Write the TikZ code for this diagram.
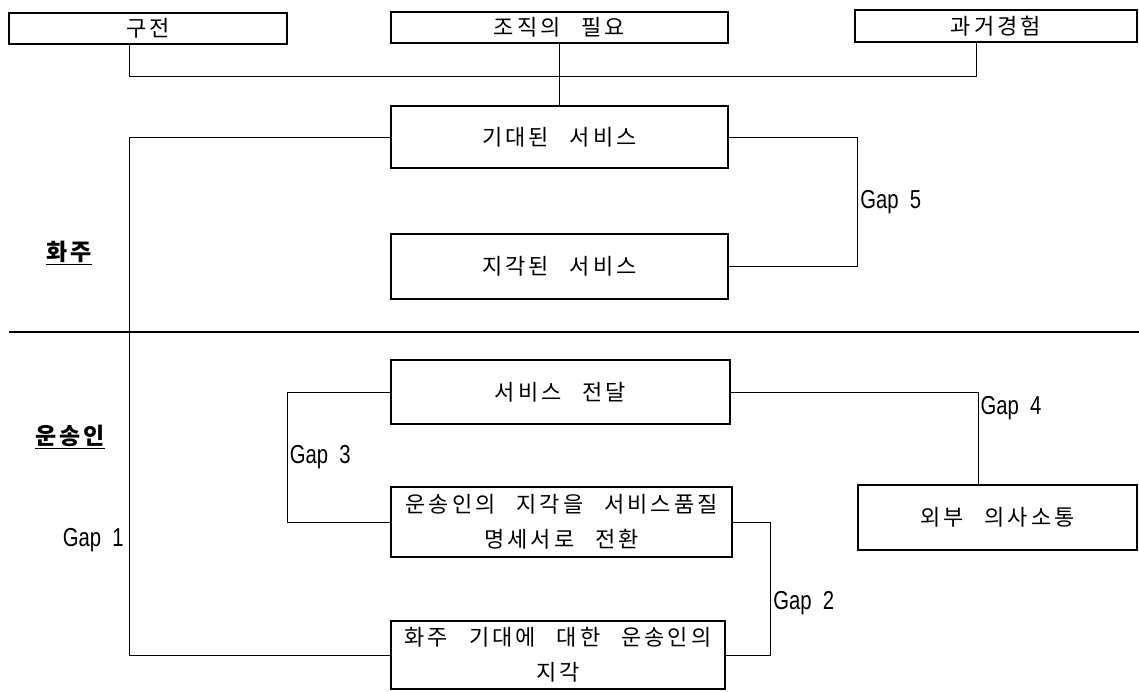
\documentclass[tikz,border=0pt]{standalone}
\usepackage{fontspec}
\newfontfamily\krfont[LetterSpace=14, WordSpace=2.6]{Noto Sans CJK KR}
\newfontfamily\gapfont[FakeStretch=0.78, WordSpace=2]{Liberation Sans}
\begin{document}
\begin{tikzpicture}[x=1pt, y=-1pt,
    box/.style={draw, line width=1.5pt, inner sep=0pt, align=center, font=\krfont\fontsize{22}{35}\selectfont},
    link/.style={line width=1pt},
    gaplbl/.style={font=\gapfont\fontsize{26}{26}\selectfont, inner sep=2pt},
    side/.style={font=\krfont\bfseries\fontsize{23}{26}\selectfont}]
        \useasboundingbox (0,0) rectangle (1139,691);

        % Fonti delle aspettative
        \node[box, minimum width=278, minimum height=31] (gujeon) at (148,28.5) {구전};
        \node[box, minimum width=337, minimum height=31] (jojik) at (559.5,27.5) {조직의 필요};
        \node[box, minimum width=282, minimum height=32] (gwageo) at (996,26) {과거경험};
        \draw[link] ([xshift=-19pt]gujeon.south) -- ++(0,32) -| ([xshift=-20pt]gwageo.south);

        % Lato cliente
        \node[box, minimum width=337, minimum height=62] (gidae) at (559.5,137) {기대된 서비스};
        \node[box, minimum width=337, minimum height=65] (jigak) at (559.5,266.5) {지각된 서비스};
        \draw[link] (jojik.south) -- (gidae.north);
        \draw[link] (gidae.east) -- ++(129,0) |- node[gaplbl, right, pos=0.25] (lgap5) {Gap 5} (jigak.east);
        \node[side] (lhwaju) at (69,253) {\underline{화주}};

        % Separazione
        \draw[line width=2pt] (9,332) -- (1139,332);

        % Lato vettore
        \node[box, minimum width=339, minimum height=64] (jeondal) at (560.5,392) {서비스 전달};
        \node[box, minimum width=341, minimum height=70] (myeongse) at (561.5,522) {운송인의 지각을 서비스품질\\명세서로 전환};
        \node[box, minimum width=334, minimum height=68] (hwaju) at (558,655) {화주 기대에 대한 운송인의\\지각};
        \node[box, minimum width=279, minimum height=65] (oebu) at (997.5,517.5) {외부 의사소통};
        \node[side] (lunsong) at (70,437) {\underline{운송인}};

        % Gap
        \draw[link] (gidae.west) -- ++(-261,0) |- node[gaplbl, left, pos=0.389, xshift=-3pt] (lgap1) {Gap 1} (hwaju.west);
        \draw[link] (myeongse.east) -- ++(38,0) |- node[gaplbl, right, pos=0.305] (lgap2) {Gap 2} (hwaju.east);
        \draw[link] (jeondal.west) -- ++(-103,0) |- node[gaplbl, right, pos=0.25] (lgap3) {Gap 3} (myeongse.west);
        \draw[link] (jeondal.east) -| node[gaplbl, right, pos=0.59] (lgap4) {Gap 4} ([xshift=-19.5pt]oebu.north);

\end{tikzpicture}
\end{document}
